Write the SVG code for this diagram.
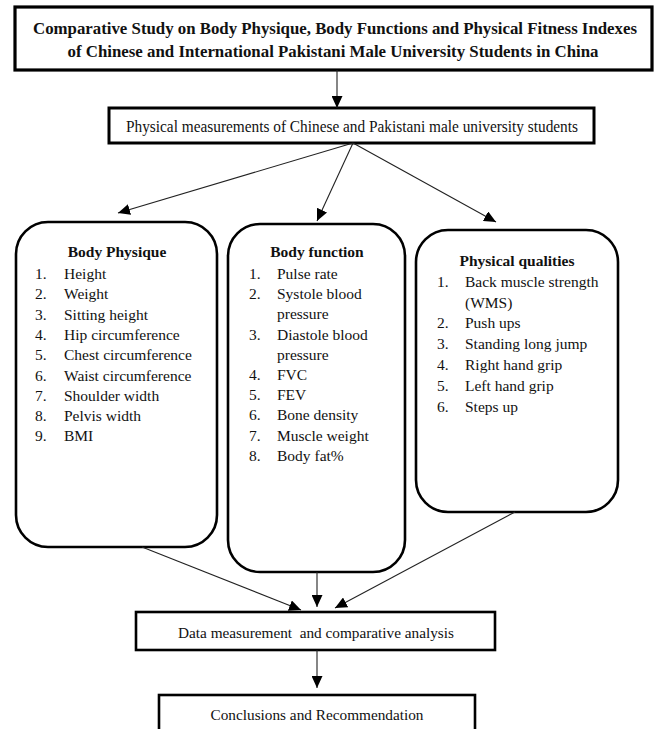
<svg xmlns="http://www.w3.org/2000/svg" width="657" height="729" viewBox="0 0 657 729" font-family="Liberation Serif, Times New Roman, Tinos, DejaVu Serif, Noto Serif, serif">
<style>
.box{fill:#fff;stroke:#000;stroke-width:2.6}
.rbox{fill:#fff;stroke:#000;stroke-width:2.6}
text{font-size:15.5px;fill:#111}
.b{font-weight:bold}
.c{text-anchor:middle}
.conn line{stroke:#222;stroke-width:1.1;marker-end:url(#ah)}
</style>
<defs>
<marker id="ah" markerUnits="userSpaceOnUse" markerWidth="13" markerHeight="11" refX="12" refY="5.5" orient="auto">
<path d="M0,0 L12,5.5 L0,11 Z" fill="#000"/>
</marker>
</defs>
<rect width="657" height="729" fill="#fff"/>

<g id="title">
<rect class="box" x="15" y="7" width="637" height="63" style="stroke-width:3.2"/>
<text class="b c" x="335" y="34" style="font-size:17px" textLength="604" lengthAdjust="spacingAndGlyphs">Comparative Study on Body Physique, Body Functions and Physical Fitness Indexes</text>
<text class="b c" x="333" y="57" style="font-size:17px" textLength="531" lengthAdjust="spacingAndGlyphs">of Chinese and International Pakistani Male University Students in China</text>
</g>

<g id="measurements">
<rect class="box" x="109" y="108" width="485" height="35" style="stroke-width:3"/>
<text class="c" x="352" y="132" style="font-size:16px" textLength="452" lengthAdjust="spacingAndGlyphs">Physical measurements of Chinese and Pakistani male university students</text>
</g>

<g id="body-physique">
<rect class="rbox" x="16" y="222" width="201" height="325" rx="32" ry="32"/>
<text class="b c" x="117" y="257">Body Physique</text>
<text x="35" y="279">1.</text><text x="64" y="279">Height</text>
<text x="35" y="299.3">2.</text><text x="64" y="299.3">Weight</text>
<text x="35" y="319.6">3.</text><text x="64" y="319.6">Sitting height</text>
<text x="35" y="339.9">4.</text><text x="64" y="339.9">Hip circumference</text>
<text x="35" y="360.2">5.</text><text x="64" y="360.2">Chest circumference</text>
<text x="35" y="380.5">6.</text><text x="64" y="380.5">Waist circumference</text>
<text x="35" y="400.8">7.</text><text x="64" y="400.8">Shoulder width</text>
<text x="35" y="421.1">8.</text><text x="64" y="421.1">Pelvis width</text>
<text x="35" y="441.4">9.</text><text x="64" y="441.4">BMI</text>
</g>

<g id="body-function">
<rect class="rbox" x="228" y="224" width="177" height="348" rx="32" ry="32"/>
<text class="b c" x="317" y="257">Body function</text>
<text x="249" y="279">1.</text><text x="277" y="279">Pulse rate</text>
<text x="249" y="299.2">2.</text><text x="277" y="299.2">Systole blood</text>
<text x="277" y="319.4">pressure</text>
<text x="249" y="339.6">3.</text><text x="277" y="339.6">Diastole blood</text>
<text x="277" y="359.8">pressure</text>
<text x="249" y="380">4.</text><text x="277" y="380">FVC</text>
<text x="249" y="400.2">5.</text><text x="277" y="400.2">FEV</text>
<text x="249" y="420.4">6.</text><text x="277" y="420.4">Bone density</text>
<text x="249" y="440.6">7.</text><text x="277" y="440.6">Muscle weight</text>
<text x="249" y="460.8">8.</text><text x="277" y="460.8">Body fat%</text>
</g>

<g id="physical-qualities">
<rect class="rbox" x="416" y="230" width="202" height="282" rx="32" ry="32"/>
<text class="b c" x="517" y="266">Physical qualities</text>
<text x="437" y="287">1.</text><text x="465" y="287">Back muscle strength</text>
<text x="465" y="307.5">(WMS)</text>
<text x="437" y="328">2.</text><text x="465" y="328">Push ups</text>
<text x="437" y="349">3.</text><text x="465" y="349">Standing long jump</text>
<text x="437" y="370">4.</text><text x="465" y="370">Right hand grip</text>
<text x="437" y="391">5.</text><text x="465" y="391">Left hand grip</text>
<text x="437" y="412">6.</text><text x="465" y="412">Steps up</text>
</g>

<g id="analysis">
<rect class="box" x="136" y="612" width="359" height="38"/>
<text class="c" x="316" y="638" xml:space="preserve" textLength="276" lengthAdjust="spacingAndGlyphs">Data measurement  and comparative analysis</text>
</g>

<g id="conclusions">
<rect class="box" x="159" y="695" width="316" height="50"/>
<text class="c" x="317" y="720" textLength="213" lengthAdjust="spacingAndGlyphs">Conclusions and Recommendation</text>
</g>

<g id="connectors" class="conn">
<line x1="337" y1="70" x2="337" y2="108"/>
<line x1="353" y1="143" x2="118" y2="213"/>
<line x1="353" y1="143" x2="317" y2="221"/>
<line x1="353" y1="143" x2="496" y2="222"/>
<line x1="142" y1="547" x2="301" y2="610"/>
<line x1="317" y1="572" x2="317" y2="607"/>
<line x1="515" y1="512" x2="335" y2="608"/>
<line x1="317" y1="650" x2="317" y2="688"/>
</g>
</svg>
